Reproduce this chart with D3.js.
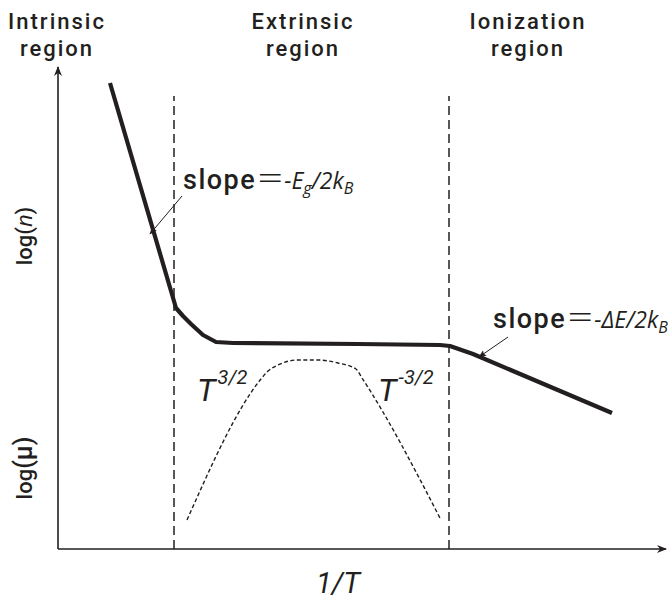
<!DOCTYPE html>
<html>
<head>
<meta charset="utf-8">
<script src="https://cdn.jsdelivr.net/npm/d3@7"></script>
<style>
  body { margin: 0; background: #fff; }
  svg { display: block; }
  text { font-family: Roboto, "Liberation Sans", Arial, sans-serif; fill: #231f20; }
</style>
</head>
<body>
<svg width="668" height="601"></svg>
<script>
// curve points, in plot units (x = distance along 1/T, y = height above x axis)
const carrierPts = [[52, 466], [118, 241], [125, 233], [133, 225], [145, 214], [158, 207], [175, 206], [300, 205], [382, 204], [392, 203], [415, 195], [554, 136]];
const mobilityPts = [[129, 29], [203, 170], [209, 177], [220, 184], [240, 189], [260, 189], [280, 186], [298, 180], [304, 171], [383, 29]];
const boundaries = [116, 391];
const regionLabels = [["Intrinsic", "region"], ["Extrinsic", "region"], ["Ionization", "region"]];
const regionX = [57, 303, 528];

const svg = d3.select("svg");
const ox = 58, oy = 549;
const ink = "#231f20";
const italicFont = "'Open Sans', 'Noto Sans', sans-serif";

const x = d3.scaleLinear().domain([0, 609]).range([ox, ox + 609]);
const y = d3.scaleLinear().domain([0, 483]).range([oy, oy - 483]);

const defs = svg.append("defs");
defs.append("marker").attr("id", "ah").attr("viewBox", "0 0 10 10")
  .attr("refX", 9).attr("refY", 5).attr("markerWidth", 10).attr("markerHeight", 10)
  .attr("markerUnits", "userSpaceOnUse").attr("orient", "auto")
  .append("path").attr("d", "M0,1 L10,5 L0,9 L3,5 Z").attr("fill", ink);
defs.append("marker").attr("id", "sm").attr("viewBox", "0 0 10 10")
  .attr("refX", 9).attr("refY", 5).attr("markerWidth", 8).attr("markerHeight", 8)
  .attr("markerUnits", "userSpaceOnUse").attr("orient", "auto")
  .append("path").attr("d", "M0,1 L10,5 L0,9 L2,5 Z").attr("fill", ink);

// axes
svg.append("line").attr("x1", x(0)).attr("y1", y(0)).attr("x2", x(0)).attr("y2", y(482))
  .attr("stroke", ink).attr("stroke-width", 1.6).attr("marker-end", "url(#ah)");
svg.append("line").attr("x1", x(0)).attr("y1", y(0)).attr("x2", x(608)).attr("y2", y(0))
  .attr("stroke", ink).attr("stroke-width", 1.6).attr("marker-end", "url(#ah)");

// region boundaries
svg.selectAll(".bnd").data(boundaries).enter().append("line")
  .attr("class", "bnd")
  .attr("x1", d => x(d)).attr("x2", d => x(d))
  .attr("y1", y(0)).attr("y2", y(453))
  .attr("stroke", ink).attr("stroke-width", 1.5).attr("stroke-dasharray", "9,5");

const line = d3.line().x(d => x(d[0])).y(d => y(d[1]));

svg.append("path").datum(carrierPts).attr("d", line)
  .attr("fill", "none").attr("stroke", ink).attr("stroke-width", 4.2).attr("stroke-linejoin", "round");

svg.append("path").datum(mobilityPts).attr("d", d3.line().x(d => x(d[0])).y(d => y(d[1])).curve(d3.curveMonotoneX))
  .attr("fill", "none").attr("stroke", ink).attr("stroke-width", 1.4).attr("stroke-dasharray", "4,2.5");

// region labels
regionLabels.forEach((lab, i) => {
  const t = svg.append("text").attr("text-anchor", "middle")
    .attr("font-size", 22).attr("font-weight", 500).attr("letter-spacing", 2);
  t.append("tspan").attr("x", regionX[i]).attr("y", 29).text(lab[0]);
  t.append("tspan").attr("x", regionX[i]).attr("y", 56).text(lab[1]);
});

function slopeLabel(px, py, parts) {
  const t = svg.append("text").attr("x", px).attr("y", py);
  t.append("tspan").attr("font-size", 27).attr("font-weight", 500).attr("letter-spacing", 1.5).text("slope");
  t.append("tspan").attr("font-size", 28).attr("font-weight", 300)
    .attr("font-family", "'Noto Sans CJK SC', sans-serif").text("\uff1d");
  parts.forEach(p => {
    t.append("tspan").attr("font-family", italicFont).attr("font-style", "italic")
      .attr("font-size", p.sub ? 16 : 23).attr("dy", p.dy || 0).attr("dx", p.dx || 0).text(p.s);
  });
}

// slope annotations
slopeLabel(183, 189, [{s: "-E", dx: 0}, {s: "g", sub: true, dy: 5}, {s: "/2k", dy: -5}, {s: "B", sub: true, dy: 5}]);
svg.append("line").attr("x1", x(124)).attr("y1", y(353)).attr("x2", x(92)).attr("y2", y(315))
  .attr("stroke", ink).attr("stroke-width", 1).attr("marker-end", "url(#sm)");

slopeLabel(493, 328, [{s: "-\u0394E/2k", dx: 0}, {s: "B", sub: true, dy: 5}]);
svg.append("line").attr("x1", x(450)).attr("y1", y(212)).attr("x2", x(421)).attr("y2", y(192))
  .attr("stroke", ink).attr("stroke-width", 1).attr("marker-end", "url(#sm)");

// T powers
const t1 = svg.append("text").attr("x", 197).attr("y", 401).attr("font-family", italicFont).attr("font-style", "italic");
t1.append("tspan").attr("font-size", 32).text("T");
t1.append("tspan").attr("font-size", 20).attr("dy", -17).attr("dx", 2).text("3/2");
const t2 = svg.append("text").attr("x", 378).attr("y", 401).attr("font-family", italicFont).attr("font-style", "italic");
t2.append("tspan").attr("font-size", 32).text("T");
t2.append("tspan").attr("font-size", 20).attr("dy", -17).attr("dx", 2).text("-3/2");

// axis labels
const yl1 = svg.append("text").attr("transform", "translate(32,236) rotate(-90)").attr("text-anchor", "middle").attr("font-size", 22);
yl1.append("tspan").attr("font-weight", 500).text("log(");
yl1.append("tspan").attr("font-style", "italic").attr("font-family", italicFont).text("n");
yl1.append("tspan").attr("font-weight", 500).text(")");
const yl2 = svg.append("text").attr("transform", "translate(32,468) rotate(-90)").attr("text-anchor", "middle").attr("font-size", 22).attr("font-weight", 500);
yl2.append("tspan").text("log");
yl2.append("tspan").attr("font-size", 25).text("(\u03bc)");

svg.append("text").attr("x", 338).attr("y", 593).attr("text-anchor", "middle")
  .attr("font-size", 29).attr("font-style", "italic").attr("font-family", italicFont).text("1/T");
</script>
</body>
</html>
